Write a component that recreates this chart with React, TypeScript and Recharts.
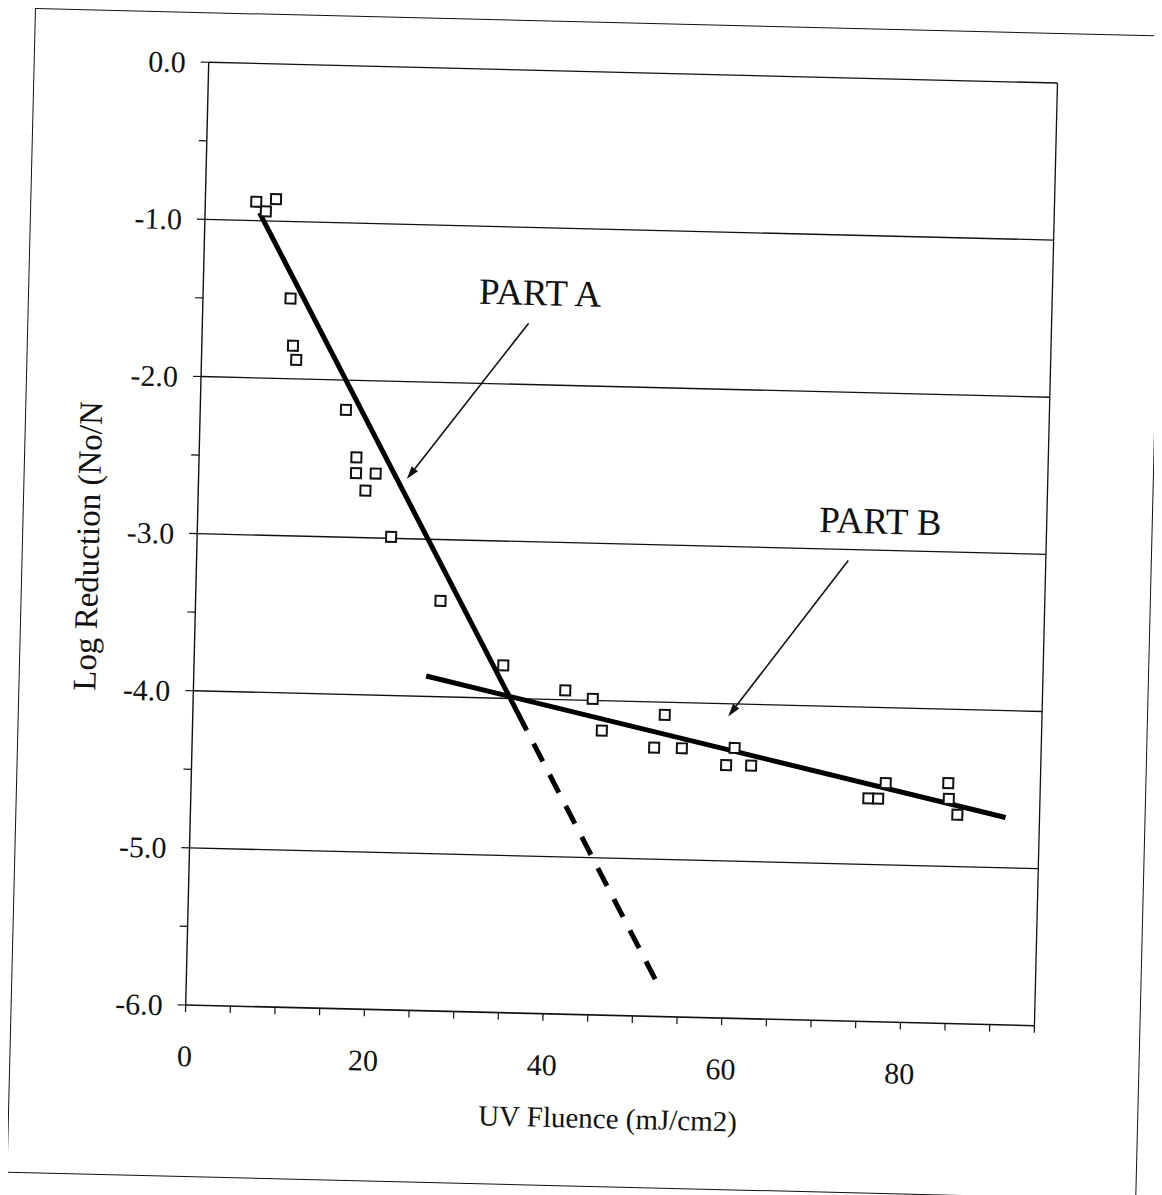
import React from 'react'
import { ComposedChart, XAxis, YAxis, CartesianGrid, Line, Scatter, ReferenceLine, ReferenceDot } from 'recharts'

const FLUENCE = [5.7, 6.8, 7.9, 9.8, 10.2, 10.6, 16.3, 17.6, 17.6, 19.8, 18.7, 21.7, 27.4, 34.6, 41.6, 44.7, 52.8, 45.8, 51.7, 54.8, 60.7, 59.8, 62.6, 77.7, 75.8, 76.9, 84.7, 84.8, 85.8]
const LOG_RED = [-0.88, -0.94, -0.86, -1.49, -1.79, -1.88, -2.19, -2.49, -2.59, -2.59, -2.7, -2.99, -3.39, -3.79, -3.94, -3.99, -4.08, -4.19, -4.29, -4.29, -4.28, -4.39, -4.39, -4.48, -4.58, -4.58, -4.47, -4.57, -4.67]

// fitted segments
const PART_A = [{ x: 6.1, y: -0.95 }, { x: 37.4, y: -4.2 }]
const PART_A_EXT = [{ x: 37.4, y: -4.2 }, { x: 52.9, y: -5.81 }]
const PART_B = [{ x: 26.0, y: -3.87 }, { x: 91.2, y: -4.68 }]

// callouts
const ARROW_A = [{ x: 36.5, y: -1.61 }, { x: 23.3, y: -2.62 }]
const ARROW_B = [{ x: 72.9, y: -3.07 }, { x: 59.9, y: -4.08 }]
const LABEL_A = { x: 37.7, y: -1.41, text: 'PART A' }
const LABEL_B = { x: 76.4, y: -2.81, text: 'PART B' }

const X_TICKS = [0, 5, 10, 15, 20, 25, 30, 35, 40, 45, 50, 55, 60, 65, 70, 75, 80, 85, 90, 95]
const Y_TICKS = [0, -0.5, -1, -1.5, -2, -2.5, -3, -3.5, -4, -4.5, -5, -5.5, -6]
const GRID_Y = [0, -1, -2, -3, -4, -5]

const FONT = '"Liberation Serif", "Times New Roman", serif'
const INK = '#111'

const points = FLUENCE.map((x, i) => ({ x, y: LOG_RED[i] }))

function Square(props: any) {
  const { cx, cy } = props
  if (cx == null || cy == null) return null
  return <rect x={cx - 5} y={cy - 5} width={10} height={10} fill="#fff" stroke={INK} strokeWidth={2} />
}

function Arrow(props: any) {
  const { x1, y1, x2, y2 } = props
  const a = Math.atan2(y2 - y1, x2 - x1)
  const len = 13
  const half = 4
  const bx = x2 - len * Math.cos(a)
  const by = y2 - len * Math.sin(a)
  const pts = [
    `${x2},${y2}`,
    `${bx + half * Math.sin(a)},${by - half * Math.cos(a)}`,
    `${bx - half * Math.sin(a)},${by + half * Math.cos(a)}`,
  ].join(' ')
  return (
    <g>
      <line x1={x1} y1={y1} x2={bx} y2={by} stroke={INK} strokeWidth={1.6} />
      <polygon points={pts} fill={INK} />
    </g>
  )
}

export default function App() {
  return (
    <div style={{ width: 1154, height: 1187, overflow: 'hidden' }}>
      <div
        style={{
          position: 'relative',
          marginLeft: 27,
          width: 1130,
          height: 1165,
          transform: 'rotate(1.4deg)',
          transformOrigin: '0 0',
          background: '#fff',
        }}
      >
        <ComposedChart
          width={1130}
          height={1165}
          margin={{ top: 50, right: 106, bottom: 112, left: 25 }}
          style={{ fontFamily: FONT }}
        >
          <CartesianGrid
            stroke={INK}
            strokeWidth={1.3}
            horizontalValues={GRID_Y}
            verticalValues={[95]}
          />
          <XAxis
            type="number"
            dataKey="x"
            domain={[0, 95]}
            ticks={X_TICKS}
            interval={0}
            height={60}
            tickSize={7}
            tickMargin={33}
            tickFormatter={(v: number) => (v % 20 === 0 ? String(v) : '')}
            tick={{ fill: INK, fontSize: 30, fontFamily: FONT }}
            axisLine={{ stroke: INK, strokeWidth: 1.6 }}
            tickLine={{ stroke: INK, strokeWidth: 1.2 }}
            label={{
              content: (p: any) => {
                const vb = p.viewBox
                return (
                  <text x={vb.x + vb.width / 2} y={vb.y + 103} textAnchor="middle" dominantBaseline="central" fontSize={29} fontFamily={FONT} fill={INK}>
                    UV Fluence (mJ/cm2)
                  </text>
                )
              },
            }}
          />
          <YAxis
            type="number"
            dataKey="y"
            domain={[-6, 0]}
            ticks={Y_TICKS}
            interval={0}
            width={150}
            tickSize={8}
            tickMargin={15}
            tickFormatter={(v: number) => (Number.isInteger(v) ? v.toFixed(1) : '')}
            tick={{ fill: INK, fontSize: 30, fontFamily: FONT }}
            axisLine={{ stroke: INK, strokeWidth: 1.4 }}
            tickLine={{ stroke: INK, strokeWidth: 1.2 }}
            label={{
              content: (p: any) => {
                const vb = p.viewBox
                const cx = vb.x + 41
                const cy = vb.y + vb.height / 2 + 15
                return (
                  <text x={cx} y={cy} transform={`rotate(-90 ${cx} ${cy})`} textAnchor="middle" dominantBaseline="central" fontSize={33} fontFamily={FONT} fill={INK}>
                    Log Reduction (No/N
                  </text>
                )
              },
            }}
          />
          <Line data={PART_A} dataKey="y" stroke="#000" strokeWidth={5} dot={false} isAnimationActive={false} />
          <Line data={PART_A_EXT} dataKey="y" stroke="#000" strokeWidth={5} strokeDasharray="0 15 20 0" dot={false} isAnimationActive={false} />
          <Line data={PART_B} dataKey="y" stroke="#000" strokeWidth={5} dot={false} isAnimationActive={false} />
          <ReferenceLine segment={ARROW_A} shape={Arrow} />
          <ReferenceLine segment={ARROW_B} shape={Arrow} />
          <ReferenceDot
            x={LABEL_A.x}
            y={LABEL_A.y}
            r={0}
            stroke="none"
            fill="none"
            label={{ value: LABEL_A.text, position: 'center', fontSize: 37, fontFamily: FONT, fill: INK }}
          />
          <ReferenceDot
            x={LABEL_B.x}
            y={LABEL_B.y}
            r={0}
            stroke="none"
            fill="none"
            label={{ value: LABEL_B.text, position: 'center', fontSize: 37, fontFamily: FONT, fill: INK }}
          />
          <Scatter data={points} dataKey="y" shape={Square} isAnimationActive={false} />
        </ComposedChart>
        <div
          style={{
            position: 'absolute',
            left: 0,
            top: 0,
            width: 1130,
            height: 1165,
            boxSizing: 'border-box',
            border: `1.5px solid ${INK}`,
            pointerEvents: 'none',
          }}
        />
      </div>
    </div>
  )
}
